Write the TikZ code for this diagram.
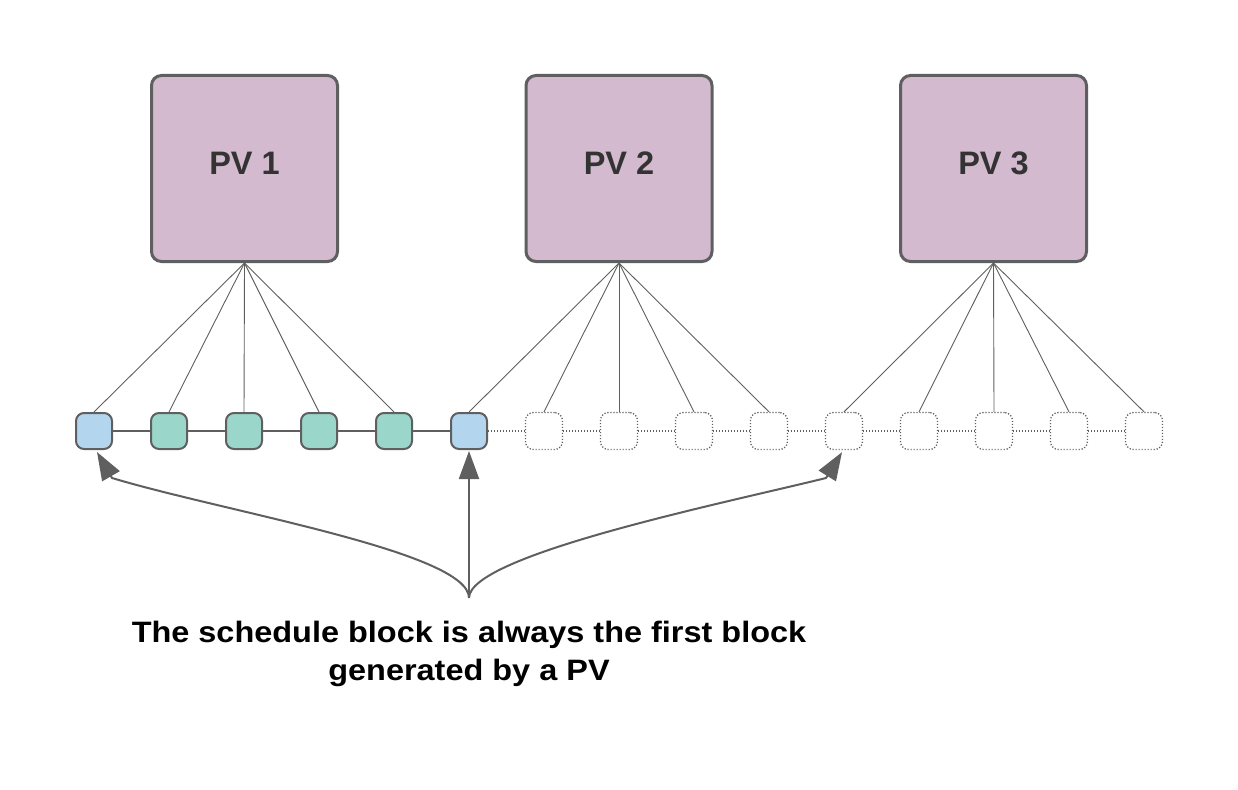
\documentclass[tikz,border=0pt]{standalone}
\usepackage{fontspec}
\setmainfont{Liberation Sans}
\newfontfamily\capfont[FakeStretch=1.1]{Liberation Sans}
\usetikzlibrary{arrows.meta}
\definecolor{edgegray}{HTML}{5F5F5F}
\definecolor{pvfill}{HTML}{D3BACF}
\definecolor{schedfill}{HTML}{B3D5EE}
\definecolor{greenfill}{HTML}{9AD6CA}
\definecolor{pvtext}{HTML}{333333}
\begin{document}
\begin{tikzpicture}[x=1pt,y=-1pt,
  pvbox/.style={draw=edgegray, line width=3pt, fill=pvfill, rounded corners=10pt,
    minimum width=186pt, minimum height=186pt, inner sep=0pt},
  pvlabel/.style={inner sep=0pt, text=pvtext, font=\bfseries\fontsize{32.5}{38}\selectfont},
  blk/.style={draw=edgegray, line width=2pt, rounded corners=8pt,
    minimum width=36pt, minimum height=36pt, inner sep=0pt},
  schedblk/.style={blk, fill=schedfill},
  normblk/.style={blk, fill=greenfill},
  futblk/.style={draw=edgegray, line width=1.3pt, dash pattern=on 1.2pt off 1.8pt,
    rounded corners=8pt, minimum width=37pt, minimum height=37pt, inner sep=0pt, fill=white},
  fan/.style={draw=edgegray, line width=0.9pt},
  chain/.style={draw=edgegray, line width=2pt},
  futchain/.style={draw=edgegray, line width=1.3pt, dash pattern=on 1.2pt off 1.8pt},
  arr/.style={draw=edgegray, line width=2pt, -{Triangle[length=28pt,width=20pt]}},
  caption/.style={align=center, inner sep=0pt, font=\capfont\bfseries\fontsize{29.5}{38}\selectfont}
]
\useasboundingbox (0,0) rectangle (1238,789);

% PV boxes
\node[pvbox] (pv1) at (244.5,168.5) {};
\node[pvbox] (pv2) at (619,168.5) {};
\node[pvbox] (pv3) at (993.5,168.5) {};
\node[pvlabel] (pv1t) at (244.5,163) {PV 1};
\node[pvlabel] (pv2t) at (619,163) {PV 2};
\node[pvlabel] (pv3t) at (993.5,163) {PV 3};

% blocks
\node[schedblk] (b1) at (94,431) {};
\node[normblk] (b2) at (169,431) {};
\node[normblk] (b3) at (244,431) {};
\node[normblk] (b4) at (319,431) {};
\node[normblk] (b5) at (394,431) {};
\node[schedblk] (b6) at (469,431) {};
\foreach \i in {7,...,15} {
  \node[futblk] (b\i) at ({94+75*(\i-1)},431) {};
}

% chain
\foreach \i [evaluate=\i as \j using int(\i+1)] in {1,...,5} {
  \draw[chain] (b\i.east) -- (b\j.west);
}
\foreach \i [evaluate=\i as \j using int(\i+1)] in {6,...,14} {
  \draw[futchain] (b\i.east) -- (b\j.west);
}

% fans
\foreach \i in {1,...,5} { \draw[fan] (pv1.south) -- (b\i.north); }
\foreach \i in {6,...,10} { \draw[fan] (pv2.south) -- (b\i.north); }
\foreach \i in {11,...,15} { \draw[fan] (pv3.south) -- (b\i.north); }

% arrows
\coordinate (src) at (469,598);
\coordinate (t1) at ([xshift=3pt,yshift=-2pt]b1.south);
\coordinate (t6) at ([yshift=-1pt]b6.south);
\coordinate (t11) at ([xshift=-2pt,yshift=-2pt]b11.south);
\coordinate (h1) at (112,478);
\coordinate (h11) at (826,478);
\draw[arr] (src) .. controls (469,552) and (225,512) .. (h1) -- (t1);
\draw[arr] (src) -- (t6);
\draw[arr] (src) .. controls (469,555) and (725,503) .. (h11) -- (t11);

% caption
\node[caption] (cap) at (469,653.5) {The schedule block is always the first block\\generated by a PV};
\end{tikzpicture}
\end{document}
